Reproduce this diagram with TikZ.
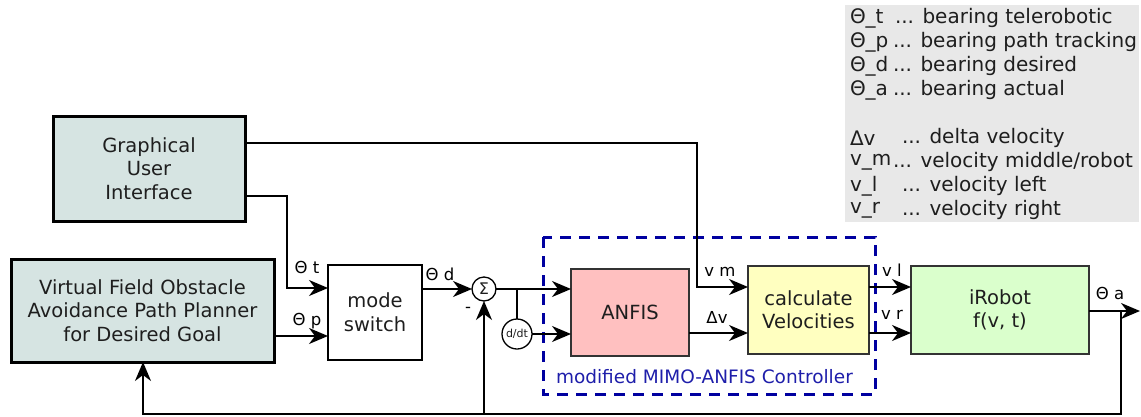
\documentclass[tikz,border=0pt]{standalone}
\usepackage{fontspec}
\setmainfont{DejaVu Sans}
\usetikzlibrary{arrows.meta,calc}
\definecolor{guifill}{RGB}{214,228,226}
\definecolor{anfisfill}{RGB}{255,192,192}
\definecolor{calcfill}{RGB}{255,255,192}
\definecolor{robotfill}{RGB}{218,255,204}
\definecolor{legfill}{RGB}{232,232,232}
\definecolor{dkblue}{RGB}{0,0,160}
\definecolor{lblblue}{RGB}{30,30,170}
\definecolor{txt}{RGB}{30,30,30}
\begin{document}
\begin{tikzpicture}[x=1pt,y=-1pt,
  every node/.style={inner sep=0pt,outer sep=0pt,text=txt},
  bigbox/.style={draw=black,line width=3pt,fill=guifill,align=center,
    font=\fontsize{19.5}{23.5}\selectfont},
  modebox/.style={draw=black,line width=2.4pt,fill=white,align=center,
    font=\fontsize{19.5}{24}\selectfont},
  blk/.style={draw=black!80,line width=1.5pt,align=center,
    font=\fontsize{19.5}{23}\selectfont},
  circ/.style={draw=black,line width=1.3pt,circle,fill=white},
  lbl/.style={font=\fontsize{16.5}{18}\selectfont,text=black},
  conn/.style={line width=1.7pt,draw=black},
  arr/.style={conn,-{Stealth[length=19pt,width=16pt,inset=6pt]}},
  leg/.style={anchor=west,font=\fontsize{20}{22}\selectfont,text=txt}
]
\useasboundingbox (0,0) rectangle (1141,416);

% legend
\fill[legfill] (845,5) rectangle (1139,222);
\node[leg] (l1a) at (850,18) {Θ\_t};  \node[leg] (l1b) at (895,18) {... bearing telerobotic};
\node[leg] (l2a) at (850,42) {Θ\_p};  \node[leg] (l2b) at (893,42) {... bearing path tracking};
\node[leg] (l3a) at (850,66) {Θ\_d};  \node[leg] (l3b) at (893,66) {... bearing desired};
\node[leg] (l4a) at (850,90) {Θ\_a};  \node[leg] (l4b) at (893,90) {... bearing actual};
\node[leg] (l5a) at (850,138) {Δv};   \node[leg] (l5b) at (902,138) {... delta velocity};
\node[leg] (l6a) at (850,162) {v\_m}; \node[leg] (l6b) at (893,162) {... velocity middle/robot};
\node[leg] (l7a) at (850,186) {v\_l}; \node[leg] (l7b) at (902,186) {... velocity left};
\node[leg] (l8a) at (850,210) {v\_r}; \node[leg] (l8b) at (902,210) {... velocity right};

% dashed controller box
\draw[dkblue,line width=3pt,dash pattern=on 11pt off 8pt] (543,237) rectangle (875,394);
\node[font=\fontsize{18.5}{20}\selectfont,text=lblblue,anchor=west] (ctl) at (556,377) {modified MIMO-ANFIS Controller};

% blocks
\node[bigbox,minimum width=192pt,minimum height=105pt] (gui) at (149,168.5) {Graphical\\User\\Interface};
\node[bigbox,minimum width=263pt,minimum height=103pt] (vfo) at (142.5,310.5) {Virtual Field Obstacle\\Avoidance Path Planner\\for Desired Goal};
\node[modebox,minimum width=94pt,minimum height=95pt] (mode) at (375,312.5) {mode\\switch};
\node[circ,minimum size=24pt,font=\fontsize{16}{16}\selectfont] (sum) at (484,289) {Σ};
\node[circ,minimum size=30pt,font=\fontsize{11}{11}\selectfont] (ddt) at (517,334) {d/dt};
\node[blk,fill=anfisfill,minimum width=118pt,minimum height=87pt] (anfis) at (630,312.5) {ANFIS};
\node[blk,fill=calcfill,minimum width=121pt,minimum height=88pt] (calc) at (808.5,310) {calculate\\Velocities};
\node[blk,fill=robotfill,minimum width=178pt,minimum height=88pt] (robot) at (1000,310) {iRobot\\f(v, t)};

% coordinates
\coordinate (br) at (517,289);
\coordinate (out) at (1140,311);
\coordinate (fbr) at (1121,311);
\coordinate (fbb) at (1121,414);
\coordinate (fbs) at (484,414);
\coordinate (fbv) at (143,414);

% connectors
\draw[arr] (gui.east |- 0,143) -- (697,143) |- (calc.west |- 0,287);
\draw[arr] (gui.east |- 0,196) -- (287,196) |- (mode.west |- 0,288);
\draw[arr] (vfo.east |- 0,336) -- (mode.west |- 0,336);
\draw[arr] (mode.east |- sum.west) -- (sum.west);
\draw[arr] (sum.east) -- (anfis.west |- sum.east);
\draw[conn] (br) -- (ddt.north);
\draw[arr] (ddt.east) -- (anfis.west |- ddt.east);
\draw[arr] (anfis.east |- 0,333) -- (calc.west |- 0,333);
\draw[arr] (calc.east |- 0,287) -- (robot.west |- 0,287);
\draw[arr] (calc.east |- 0,333) -- (robot.west |- 0,333);
\draw[arr] (robot.east |- out) -- (out);
\draw[conn] (fbr) -- (fbb) -- (fbs);
\draw[arr] (fbs) -- (sum.south);
\draw[arr] (fbs) -- (fbv) -- (vfo.south -| fbv);

% labels
\node[lbl] (lt) at (307,267) {Θ t};
\node[lbl] (lp) at (307,321) {Θ p};
\node[lbl] (ld) at (440,274) {Θ d};
\node[lbl] (lm) at (468,310) {-};
\node[lbl] (lvm) at (720,272) {v m};
\node[lbl] (ldv) at (717,317) {Δv};
\node[lbl] (lvl) at (892,270) {v l};
\node[lbl] (lvr) at (892,315) {v r};
\node[lbl] (la) at (1110,293) {Θ a};
\end{tikzpicture}
\end{document}
